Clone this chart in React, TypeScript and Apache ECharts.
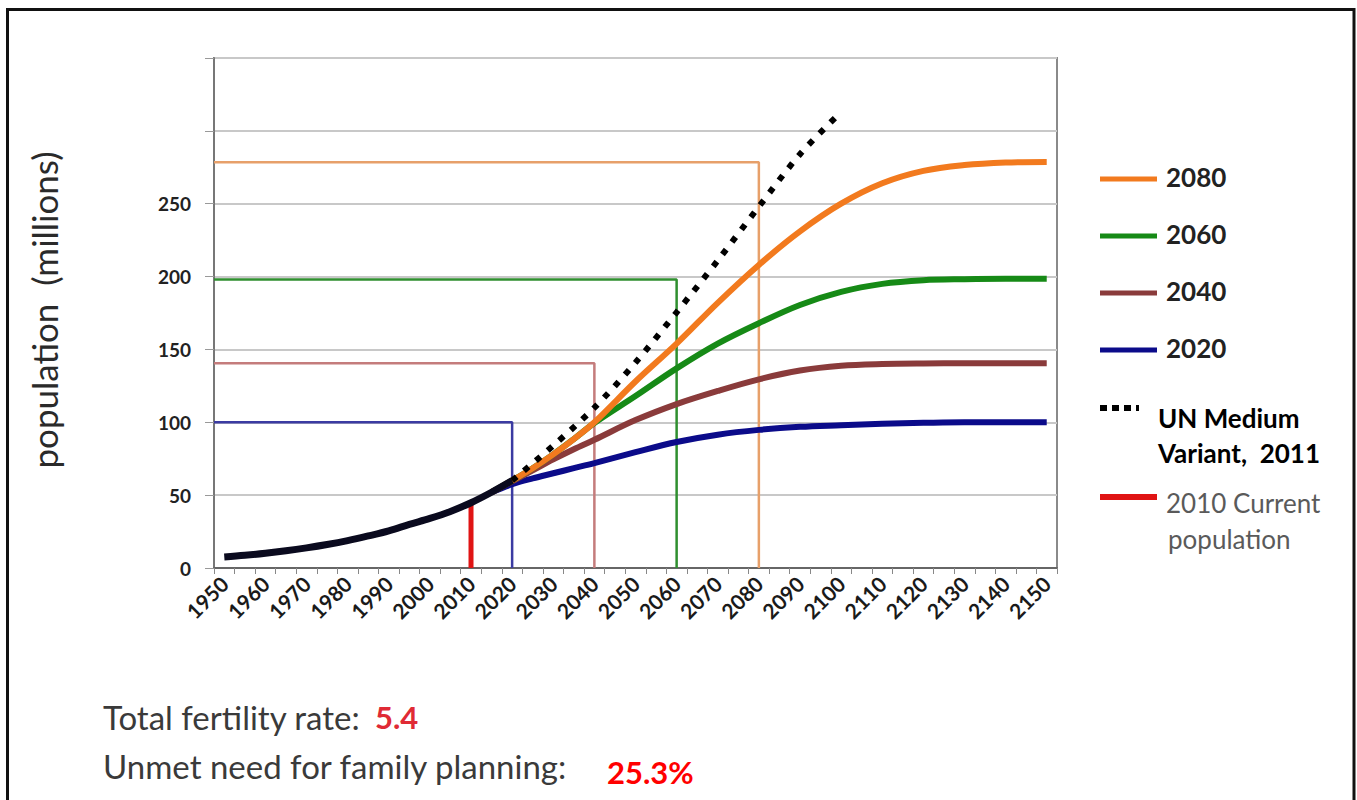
import React, { useEffect, useRef } from "react";
import * as echarts from "echarts";

// ---------- data ----------
const yearLabels = [
  "1950","1955","1960","1965","1970","1975","1980","1985","1990","1995",
  "2000","2005","2010","2015","2020","2025","2030","2035","2040","2045",
  "2050","2055","2060","2065","2070","2075","2080","2085","2090","2095",
  "2100","2105","2110","2115","2120","2125","2130","2135","2140","2145","2150",
];
const axisMinYear = 1947.5;
const axisMaxYear = 2152.5;

const histYears = [1950, 1955, 1960, 1965, 1970, 1975, 1980, 1985, 1990, 1995, 2000, 2005, 2010, 2015, 2020];
const histValues = [7.6, 8.7, 10.1, 11.8, 13.8, 16.1, 18.8, 22.0, 25.5, 29.9, 34.0, 38.8, 44.8, 52.0, 60.0];

const unYears = [2020, 2030, 2040, 2050, 2060, 2070, 2080, 2090, 2100];
const unValues = [60, 84, 110, 141, 175.5, 211, 248, 284, 313];

const scenarioYears = [2015, 2020, 2025, 2030, 2035, 2040, 2050, 2060, 2070, 2080, 2090, 2100, 2110, 2120, 2130, 2140, 2150];
const scenario2080 = [52, 60, 68.5, 78, 88.5, 100, 128, 154, 182, 208, 231, 250, 264, 272.5, 276.5, 278.3, 278.7];
const scenario2060 = [52, 60, 68.5, 78, 88.5, 99.5, 118, 137, 154, 168, 180.5, 189.5, 195, 197.5, 198.2, 198.5, 198.5];
const scenario2040 = [52, 59.5, 67, 74.5, 81.5, 88, 101.5, 112.5, 121.5, 129.5, 135.5, 138.8, 140, 140.4, 140.5, 140.5, 140.5];
const scenario2020 = [52, 57.5, 61.5, 65, 68.5, 72, 79.5, 86.5, 91.5, 94.8, 96.9, 98, 99, 99.6, 100, 100, 100];

const targetYears = [2080, 2060, 2040, 2020];
const targetValues = [278.5, 198, 140.5, 100];

const currentYear = 2010;
const currentPopulation = 44.8;

const fertilityRate = "5.4";
const unmetNeed = "25.3%";

// ---------- styles ----------
const curveColors = ["#F27A1E", "#168A16", "#8A3B3B", "#0B0B8A"];
const refColors = ["#E7A06A", "#2F8F2F", "#C47C7C", "#3B3BA2"];
const scenarioValues = [scenario2080, scenario2060, scenario2040, scenario2020];
const scenarioNames = ["2080", "2060", "2040", "2020"];
const redColor = "#E01414";

const pair = (xs: number[], ys: number[]) => xs.map((x, i) => [x, ys[i]]);

export default function App() {
  const ref = useRef<HTMLDivElement>(null);

  useEffect(() => {
    if (!ref.current) return;
    const chart = echarts.init(ref.current, undefined, { renderer: "svg" });

    const series: any[] = [];
    targetYears.forEach((yr, i) => {
      series.push({
        name: "ref" + scenarioNames[i],
        type: "line",
        xAxisIndex: 1,
        symbol: "none",
        silent: true,
        lineStyle: { color: refColors[i], width: 2.5 },
        data: [
          [axisMinYear, targetValues[i]],
          [yr, targetValues[i]],
          [yr, 0],
        ],
        z: 2,
      });
    });
    series.push({
      name: "2010 Current population",
      type: "line",
      xAxisIndex: 1,
      symbol: "none",
      lineStyle: { color: redColor, width: 5 },
      data: [
        [currentYear, 0],
        [currentYear, currentPopulation],
      ],
      z: 3,
    });
    for (let i = scenarioNames.length - 1; i >= 0; i--) {
      series.push({
        name: scenarioNames[i],
        type: "line",
        xAxisIndex: 1,
        symbol: "none",
        smooth: 0.35,
        lineStyle: { color: curveColors[i], width: 6 },
        data: pair(scenarioYears, scenarioValues[i]),
        z: 4,
      });
    }
    series.push({
      name: "history",
      type: "line",
      xAxisIndex: 1,
      symbol: "none",
      smooth: 0.35,
      lineStyle: { color: "#0a0a1e", width: 7 },
      data: pair(histYears, histValues),
      z: 5,
    });
    series.push({
      name: "UN Medium Variant, 2011",
      type: "line",
      xAxisIndex: 1,
      symbol: "none",
      smooth: 0.3,
      lineStyle: { color: "#000000", width: 6, type: [6, 9.5] },
      data: pair(unYears, unValues),
      z: 6,
    });

    const legendX0 = 1100;
    const legendX1 = 1157;
    const legendYs = [179, 236, 293, 350];
    const graphic: any[] = [
      {
        type: "rect",
        shape: { x: 7.5, y: 9.5, width: 1346.5, height: 900 },
        style: { fill: "none", stroke: "#111", lineWidth: 3 },
        silent: true,
      },
      {
        type: "text",
        x: 44,
        y: 310,
        rotation: Math.PI / 2,
        style: {
          text: "population  (millions)",
          fontFamily: "Lato",
          fontSize: 35,
          fill: "#2a2a2a",
          align: "center",
          verticalAlign: "middle",
        },
      },
    ];
    scenarioNames.forEach((nm, i) => {
      graphic.push({
        type: "line",
        shape: { x1: legendX0, y1: legendYs[i], x2: legendX1, y2: legendYs[i] },
        style: { stroke: curveColors[i], lineWidth: 5 },
      });
      graphic.push({
        type: "text",
        x: 1166,
        y: legendYs[i] - 2,
        style: {
          text: nm,
          fontFamily: "Lato",
          fontWeight: "bold",
          fontSize: 26,
          fill: "#222",
          align: "left",
          verticalAlign: "middle",
        },
      });
    });
    graphic.push({
      type: "line",
      shape: { x1: 1100, y1: 408, x2: 1139, y2: 408 },
      style: { stroke: "#000", lineWidth: 6, lineDash: [7, 5] },
    });
    graphic.push({
      type: "text",
      x: 1158,
      y: 418,
      style: {
        text: "UN Medium",
        fontFamily: "Lato",
        fontWeight: "bold",
        fontSize: 26,
        fill: "#000",
        align: "left",
        verticalAlign: "middle",
      },
    });
    graphic.push({
      type: "text",
      x: 1158,
      y: 453,
      style: {
        text: "Variant,  2011",
        fontFamily: "Lato",
        fontWeight: "bold",
        fontSize: 26,
        fill: "#000",
        align: "left",
        verticalAlign: "middle",
      },
    });
    graphic.push({
      type: "line",
      shape: { x1: 1100, y1: 497, x2: 1157, y2: 497 },
      style: { stroke: redColor, lineWidth: 6 },
    });
    graphic.push({
      type: "text",
      x: 1166,
      y: 503,
      style: {
        text: "2010 Current",
        fontFamily: "Lato",
        fontSize: 26,
        fill: "#5a5a5a",
        align: "left",
        verticalAlign: "middle",
      },
    });
    graphic.push({
      type: "text",
      x: 1168,
      y: 539,
      style: {
        text: "population",
        fontFamily: "Lato",
        fontSize: 26,
        fill: "#5a5a5a",
        align: "left",
        verticalAlign: "middle",
      },
    });
    graphic.push({
      type: "text",
      x: 103,
      y: 717,
      style: { text: "Total fertility rate:", fontFamily: "Lato", fontSize: 33, fill: "#3a3a3a", align: "left", verticalAlign: "middle" },
    });
    graphic.push({
      type: "text",
      x: 375,
      y: 717,
      style: { text: fertilityRate, fontFamily: "Lato", fontWeight: "bold", fontSize: 31, fill: "#E02A35", align: "left", verticalAlign: "middle" },
    });
    graphic.push({
      type: "text",
      x: 103,
      y: 766,
      style: { text: "Unmet need for family planning:", fontFamily: "Lato", fontSize: 33, fill: "#3a3a3a", align: "left", verticalAlign: "middle" },
    });
    graphic.push({
      type: "text",
      x: 607,
      y: 772,
      style: { text: unmetNeed, fontFamily: "Lato", fontWeight: "bold", fontSize: 31, fill: "#FF0000", align: "left", verticalAlign: "middle" },
    });

    chart.setOption({
      animation: false,
      backgroundColor: "#ffffff",
      grid: {
        left: 214,
        right: 300,
        top: 58,
        bottom: 232,
        show: true,
        borderColor: "#8a8a8a",
        borderWidth: 2,
      },
      xAxis: [
        {
          type: "category",
          data: yearLabels,
          boundaryGap: true,
          axisLine: { lineStyle: { color: "#666", width: 2 } },
          axisTick: { show: true, interval: 0, length: 6, lineStyle: { color: "#888" } },
          axisLabel: {
            interval: 1,
            rotate: 45,
            margin: 12,
            fontFamily: "Lato",
            fontWeight: "bold",
            fontSize: 21,
            color: "#1a1a1a",
          },
          splitLine: { show: false },
        },
        {
          type: "value",
          min: axisMinYear,
          max: axisMaxYear,
          show: false,
          splitLine: { show: false },
        },
      ],
      yAxis: {
        type: "value",
        min: 0,
        max: 350,
        interval: 50,
        axisLine: { show: true, lineStyle: { color: "#777", width: 2 } },
        axisTick: { show: true, length: 9, lineStyle: { color: "#999" } },
        axisLabel: {
          margin: 23,
          formatter: (v: number) => (v > 250 ? "" : String(v)),
          fontFamily: "Lato",
          fontWeight: "bold",
          fontSize: 19,
          color: "#222",
        },
        splitLine: { lineStyle: { color: "#c8c8c8", width: 2 } },
      },
      series,
      graphic,
    });

    return () => chart.dispose();
  }, []);

  return (
    <div
      ref={ref}
      style={{ position: "fixed", left: 0, top: 0, width: 1357, height: 800, background: "#fff" }}
    />
  );
}
